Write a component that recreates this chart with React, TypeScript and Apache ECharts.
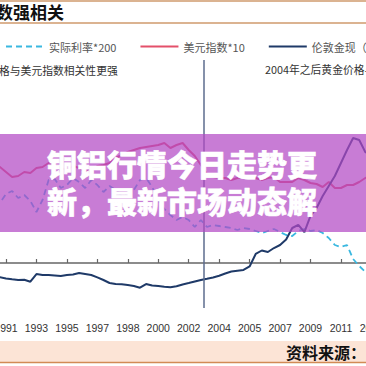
import React, { useEffect, useRef } from 'react';
import * as echarts from 'echarts';

// x positions are chart periods; a tick label every 5 periods
const periodStart = -2;
const tickLabels = ['1991', '1993', '1995', '1997', '1998', '2000', '2002', '2004', '2005', '2007', '2009', '2011', '2013'];

const seriesNames = ['实际利率*200', '美元指数*10', '伦敦金现（右轴）'];

const realRate200 = [
  580, 600, 690, 720, 650, 680, 620, 510, 630, 830, 840, 750, 780, 850, 810, 750, 830, 780, 710, 770,
  730, 670, 700, 730, 830, 850, 760, 630, 540, 480, 430, 460, 430, 360, 430, 360, 380, 370, 360, 350,
  330, 350, 340, 320, 300, 320, 340, 310, 280, 270, 320, 340, 320, 330, 300, 250, 180, 160, 180, 40,
  -30, -90, -130,
];

const dollarIndex10 = [
  980, 960, 910, 860, 870, 910, 900, 950, 960, 1000, 980, 950, 930, 970, 950, 910, 930, 970, 980, 1000,
  1050, 1080, 1110, 1130, 1150, 1160, 1170, 1180, 1200, 1150, 1180, 1200, 1130, 1070, 980, 890, 860, 850, 850, 830,
  850, 860, 860, 850, 830, 850, 860, 810, 810, 810, 850, 830, 800, 790, 760, 810, 750, 750, 780, 780,
  810, 850, 870,
];

const goldPrice = [
  337, 334, 321, 312, 305, 308, 286, 370, 359, 359, 354, 348, 359, 365, 381, 370, 359, 334, 305, 272,
  261, 258, 250, 240, 221, 261, 245, 240, 232, 225, 236, 256, 272, 289, 305, 318, 332, 351, 376, 397,
  406, 414, 452, 588, 626, 610, 653, 686, 746, 871, 904, 827, 1002, 1089, 1219, 1328, 1437, 1579, 1720, 1851,
  1829, 1698, 1666,
];

const markerPeriod = 32.5;

const titleText = '数强相关';
const noteLeft = '格与美元指数相关性更强';
const noteRight = '2004年之后黄金价格与美元指数相关性减弱';
const bannerLines = ['铜铝行情今日走势更', '新，最新市场动态解'];
const sourceText = '资料来源：';

const toPairs = (arr: number[]) => arr.map((v, i) => [periodStart + i, v]);

const CJK = '"Noto Sans CJK SC", "Noto Sans", sans-serif';

export default function App() {
  const ref = useRef<HTMLDivElement>(null);

  useEffect(() => {
    if (!ref.current) return;
    const chart = echarts.init(ref.current, undefined, { renderer: 'svg' });

    const labelFormatter = (val: number) => {
      const k = val / 5;
      if (val < 0 || !Number.isInteger(k)) return '';
      return tickLabels[k] ?? '';
    };

    const leftMin = -450;
    const leftMax = 2030;

    const option: any = {
      animation: false,
      backgroundColor: '#ffffff',
      textStyle: { fontFamily: CJK },
      grid: [
        { left: -24.45, right: -5.4, top: 60, bottom: 58, containLabel: false, outerBoundsMode: 'none' },
        // zero line of the left axis (value 0 sits 45px above the bottom of the main grid)
        { left: -24.45, right: -5.4, top: 60, bottom: 103, containLabel: false, outerBoundsMode: 'none' },
      ],
      legend: {
        left: 0,
        top: 36,
        width: 900,
        itemWidth: 38,
        itemHeight: 14,
        itemGap: 23,
        itemStyle: { opacity: 0 },
        textStyle: { fontSize: 11, color: '#555', fontFamily: CJK },
        data: seriesNames,
      },
      xAxis: [
        {
          type: 'value',
          gridIndex: 0,
          min: -5,
          max: 60,
          interval: 5,
          position: 'bottom',
          axisLine: { show: false, onZero: false },
          axisTick: { show: false },
          splitLine: { show: false },
          axisLabel: {
            formatter: labelFormatter,
            fontSize: 10.5,
            color: '#333',
            margin: 14,
            fontFamily: '"Liberation Sans", Arial, sans-serif',
            showMinLabel: true,
            showMaxLabel: true,
          },
        },
        {
          type: 'value',
          gridIndex: 1,
          min: -5,
          max: 60,
          interval: 5,
          position: 'bottom',
          axisLine: { show: true, onZero: false, lineStyle: { color: '#666', width: 1.5 } },
          axisTick: { show: true, inside: true, length: 4, lineStyle: { color: '#666', width: 1.2 } },
          axisLabel: { show: false },
          splitLine: { show: false },
        },
      ],
      yAxis: [
        { type: 'value', gridIndex: 0, min: leftMin, max: leftMax, show: false, splitLine: { show: false } },
        { type: 'value', gridIndex: 0, min: 0, max: 2700, show: false, position: 'right', splitLine: { show: false } },
        { type: 'value', gridIndex: 1, min: 0, max: leftMax, show: false, splitLine: { show: false } },
      ],
      series: [
        {
          name: seriesNames[0],
          type: 'line',
          xAxisIndex: 0,
          yAxisIndex: 0,
          data: toPairs(realRate200),
          showSymbol: false,
          symbol: 'none',
          lineStyle: { color: '#3ab8e0', width: 1.8, type: [6, 4] },
          itemStyle: { color: '#3ab8e0' },
          z: 2,
        },
        {
          name: seriesNames[1],
          type: 'line',
          xAxisIndex: 0,
          yAxisIndex: 0,
          data: toPairs(dollarIndex10),
          showSymbol: false,
          symbol: 'none',
          lineStyle: { color: '#e4506a', width: 2 },
          itemStyle: { color: '#e4506a' },
          z: 3,
        },
        {
          name: seriesNames[2],
          type: 'line',
          xAxisIndex: 0,
          yAxisIndex: 1,
          data: toPairs(goldPrice),
          showSymbol: false,
          symbol: 'none',
          lineStyle: { color: '#1f3a68', width: 2 },
          itemStyle: { color: '#1f3a68' },
          z: 4,
          markLine: {
            silent: true,
            symbol: ['none', 'none'],
            label: { show: false },
            lineStyle: { color: '#5d6d8e', width: 1.5, type: 'solid' },
            data: [{ xAxis: markerPeriod }],
          },
        },
      ],
      graphic: [
        { type: 'line', z: 50, shape: { x1: 0, y1: 1, x2: 366, y2: 1 }, style: { stroke: '#cf9a6c', lineWidth: 1.5 } },
        { type: 'line', z: 50, shape: { x1: 0, y1: 23, x2: 366, y2: 23 }, style: { stroke: '#cf9a6c', lineWidth: 1.5 } },
        {
          type: 'text', z: 50, x: -4, y: 11,
          style: { text: titleText, fontSize: 17, fontWeight: 'bold', fontFamily: CJK, fill: '#111', verticalAlign: 'middle' },
        },
        {
          type: 'text', z: 50, x: -1, y: 70,
          style: { text: noteLeft, fontSize: 10.8, fontFamily: CJK, fill: '#333', verticalAlign: 'middle' },
        },
        {
          type: 'text', z: 50, x: 265, y: 69,
          style: { text: noteRight, fontSize: 10.8, fontFamily: CJK, fill: '#333', verticalAlign: 'middle' },
        },
        {
          type: 'rect', z: 100, shape: { x: 0, y: 134, width: 366, height: 98 },
          style: { fill: 'rgba(179,74,197,0.72)' },
        },
        {
          type: 'text', z: 101, x: 47, y: 163,
          style: {
            text: bannerLines[0], fontSize: 30, fontWeight: 900, fontFamily: CJK, fill: '#ffffff',
            stroke: '#ffffff', lineWidth: 0.6, verticalAlign: 'middle',
          },
        },
        {
          type: 'text', z: 101, x: 47, y: 200,
          style: {
            text: bannerLines[1], fontSize: 30, fontWeight: 900, fontFamily: CJK, fill: '#ffffff',
            stroke: '#ffffff', lineWidth: 0.6, verticalAlign: 'middle',
          },
        },
        {
          type: 'rect', z: 50, shape: { x: 0, y: 341, width: 366, height: 21 },
          style: { fill: '#fce4d6' },
        },
        { type: 'line', z: 51, shape: { x1: 0, y1: 362.5, x2: 366, y2: 362.5 }, style: { stroke: '#d28a55', lineWidth: 1.5 } },
        {
          type: 'text', z: 52, x: 286, y: 352,
          style: { text: sourceText, fontSize: 16, fontWeight: 'bold', fontFamily: CJK, fill: '#111', verticalAlign: 'middle' },
        },
      ],
    };

    chart.setOption(option);
    return () => chart.dispose();
  }, []);

  return (
    <div
      ref={ref}
      style={{ position: 'fixed', left: 0, top: 0, width: 366, height: 366, background: '#fff' }}
    />
  );
}
